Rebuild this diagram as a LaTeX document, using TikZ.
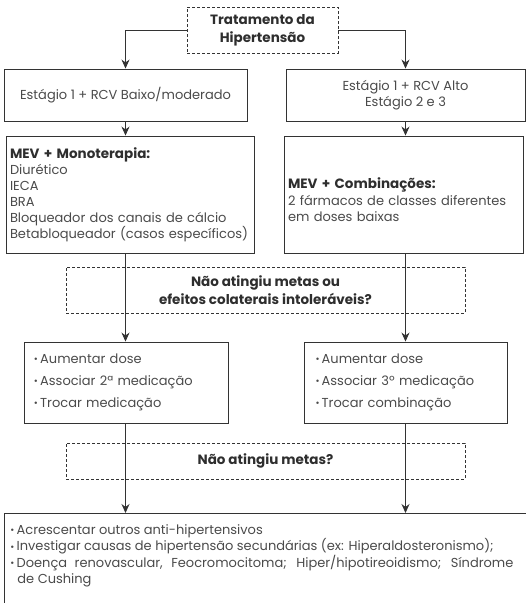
\documentclass[tikz,border=0pt]{standalone}
\usepackage{fontspec}
\setmainfont{Poppins}
\usetikzlibrary{arrows.meta,positioning}
\definecolor{linec}{HTML}{333333}
\definecolor{txt}{HTML}{4A4A4A}
\definecolor{btxt}{HTML}{2E2E2E}
\newcommand{\bfs}{\fontsize{13.5}{16}\selectfont\bfseries}
\tikzset{
  box/.style={draw=linec,line width=0.9pt,rectangle,inner sep=4pt,text=txt,font=\fontsize{13}{16}\selectfont},
  qbox/.style={draw=linec,line width=0.9pt,dashed,dash pattern=on 3pt off 2pt,rectangle,text=btxt,font=\fontsize{13.5}{18}\selectfont\bfseries,align=center},
  arr/.style={draw=linec,line width=0.9pt,-{Stealth[length=9pt,width=8pt]}},
}
\newcommand{\bul}{\raisebox{0.1ex}{\scalebox{0.75}{•}}\,}
\begin{document}
\begin{tikzpicture}[x=1pt,y=-1pt]
\useasboundingbox (0,0) rectangle (526,603);
\node[qbox,minimum width=151pt,minimum height=46pt] (top) at (262.5,30) {Tratamento da\\Hipertensão};
\node[box,minimum width=243pt,minimum height=52pt,align=center] (b1L) at (125.5,95) {Estágio 1 + RCV Baixo/moderado};
\node[box,minimum width=239pt,minimum height=52pt,align=center] (b1R) at (405.5,95) {Estágio 1 + RCV Alto\\Estágio 2 e 3};
\node[box,minimum width=248pt,minimum height=117pt,text width=240pt,align=left] (b2L) at (130,194.5)
 {{\color{btxt}\bfs MEV + Monoterapia:}\\Diurético\\IECA\\BRA\\Bloqueador dos canais de cálcio\\Betabloqueador (casos específicos)};
\node[box,minimum width=239pt,minimum height=117pt,text width=231pt,align=left] (b2R) at (403.5,194.5)
 {\raisebox{0pt}[22pt][0pt]{}{\color{btxt}\bfs MEV + Combinações:}\\[1pt]2 fármacos de classes diferentes\\em doses baixas};
\node[qbox,minimum width=399pt,minimum height=46pt] (q1) at (265.5,290) {Não atingiu metas ou\\efeitos colaterais intoleráveis?};
\node[box,minimum width=204pt,minimum height=81pt,text width=184pt,align=left] (b3L) at (126,382.5)
 {\bul Aumentar dose\\[6pt]\bul Associar 2ª medicação\\[6pt]\bul Trocar medicação};
\node[box,minimum width=203pt,minimum height=81pt,text width=180pt,align=left] (b3R) at (405.5,382.5)
 {\bul Aumentar dose\\[6pt]\bul Associar 3º medicação\\[6pt]\bul Trocar combinação};
\node[qbox,minimum width=399pt,minimum height=36pt] (q2) at (265.5,461) {Não atingiu metas?};
\node[box,anchor=north west,text width=528pt,align=justify,inner xsep=6pt,inner ysep=11pt,font=\fontsize{13}{16.5}\selectfont] (b4) at (4,513)
 {\parindent=0pt\rightskip=25pt\leavevmode\bul Acrescentar outros anti-hipertensivos\par
  \bul Investigar causas de hipertensão secundárias (ex: Hiperaldosteronismo);\par
  {\hangindent=7pt\hangafter=1\bul Doença renovascular, Feocromocitoma; Hiper/hipotireoidismo; Síndrome\linebreak de Cushing\par}
  \vspace*{40pt}};
\draw[arr] (top.west) -| (b1L.north);
\draw[arr] (top.east) -| (b1R.north);
\draw[arr] (b1L.south) -- (b1L.south |- b2L.north);
\draw[arr] (b1R.south) -- (b1R.south |- b2R.north);
\draw[arr] (b1L.south |- b2L.south) -- (b1L.south |- b3L.north);
\draw[arr] (b1R.south |- b2R.south) -- (b1R.south |- b3R.north);
\draw[arr] (b1L.south |- b3L.south) -- (b1L.south |- b4.north);
\draw[arr] (b1R.south |- b3R.south) -- (b1R.south |- b4.north);
\end{tikzpicture}
\end{document}
